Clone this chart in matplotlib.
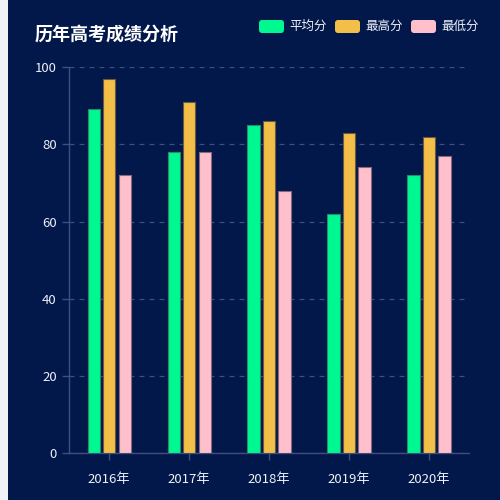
import matplotlib.pyplot as plt
import numpy as np
from matplotlib.patches import FancyBboxPatch, Rectangle

plt.rcParams['font.family'] = ['Noto Sans CJK SC', 'DejaVu Sans']

# ==================== 数据 ====================
years = ['2016年', '2017年', '2018年', '2019年', '2020年']
avg_scores = [89, 78, 85, 62, 72]
max_scores = [97, 91, 86, 83, 82]
min_scores = [72, 78, 68, 74, 77]
series_names = ['平均分', '最高分', '最低分']
colors = ['#00f891', '#f3bf48', '#ffc0cb']
edge_colors = ['#2a8a6a', '#6a5a40', '#8a6a80']

BG = '#02174a'
AXIS_COLOR = '#3d4f7e'
TEXT_COLOR = '#eef1f8'

fig = plt.figure(figsize=(5, 5), dpi=100)
fig.patch.set_facecolor(BG)
# 左侧浅色边
fig.patches.append(Rectangle((0, 0), 8 / 500, 1, transform=fig.transFigure,
                             facecolor='#f0f2f6', edgecolor='none'))

ax = fig.add_axes([69.3 / 500, 46.7 / 500, 399.7 / 500, 386.3 / 500])
ax.set_facecolor(BG)

x = np.arange(len(years))
width = 0.155
offset = 0.194
for i, (vals, c, ec) in enumerate(zip([avg_scores, max_scores, min_scores], colors, edge_colors)):
    ax.bar(x + (i - 1) * offset, vals, width=width, color=c, edgecolor=ec,
           linewidth=0.8, zorder=3)

ax.set_xlim(-0.5, len(years) - 0.5)
ax.set_ylim(0, 100)
ax.set_yticks([0, 20, 40, 60, 80, 100])
ax.set_xticks(x)
ax.set_xticklabels(years)

ax.grid(axis='y', color=AXIS_COLOR, linestyle=(0, (4, 4)), linewidth=0.9, zorder=0)
for s in ['top', 'right']:
    ax.spines[s].set_visible(False)
ax.spines['left'].set_color(AXIS_COLOR)
ax.spines['bottom'].set_color(AXIS_COLOR)
ax.spines['left'].set_linewidth(1)
ax.spines['bottom'].set_linewidth(1)

ax.tick_params(axis='x', colors=AXIS_COLOR, length=5, width=1, pad=9,
               labelcolor=TEXT_COLOR, labelsize=9.5)
ax.tick_params(axis='y', colors=AXIS_COLOR, length=5, width=1, pad=4,
               labelcolor=TEXT_COLOR, labelsize=9.5)

# 标题
fig.text(35 / 500, 1 - 34 / 500, '历年高考成绩分析', color='white', fontsize=13,
         fontweight='bold', va='center', ha='left')

# 图例
leg_x = [259, 335, 411]
for lx, name, c in zip(leg_x, series_names, colors):
    fig.patches.append(FancyBboxPatch((lx / 500, 1 - 33 / 500), 25 / 500, 13 / 500,
                                      boxstyle='round,pad=0,rounding_size=0.006',
                                      transform=fig.transFigure, facecolor=c,
                                      edgecolor='none'))
    fig.text((lx + 30) / 500, 1 - 26 / 500, name, color=TEXT_COLOR, fontsize=9,
             va='center', ha='left')

plt.savefig('out.png', dpi=100, facecolor=BG)
